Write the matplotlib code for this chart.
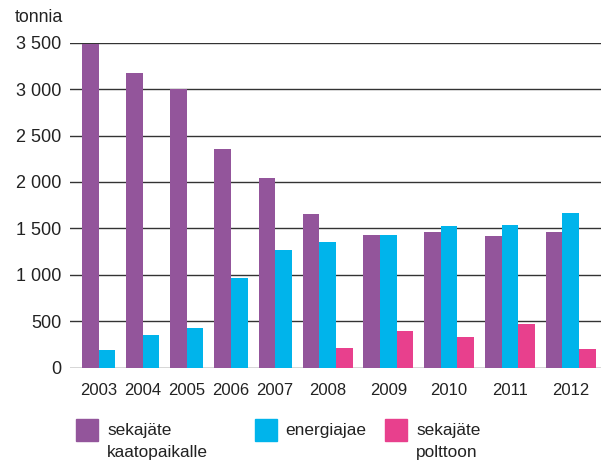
import numpy as np
import matplotlib
matplotlib.use("Agg")
import matplotlib.pyplot as plt
from matplotlib.patches import Rectangle

plt.rcParams['font.family'] = ['Liberation Sans', 'DejaVu Sans']

# data (tonnia)
years = ['2003', '2004', '2005', '2006', '2007', '2008', '2009', '2010', '2011', '2012']
kaatopaikalle = [3490, 3170, 3000, 2350, 2045, 1650, 1428, 1462, 1416, 1462]
energiajae = [187, 355, 429, 962, 1267, 1359, 1428, 1528, 1538, 1661]
polttoon = [0, 0, 0, 0, 0, 208, 398, 334, 471, 197]
series_names = ['sekajäte\nkaatopaikalle', 'energiajae', 'sekajäte\npolttoon']
colors = ['#93559b', '#00b4eb', '#e8408d']
yticks = [0, 500, 1000, 1500, 2000, 2500, 3000, 3500]
ytick_labels = ['0', '500', '1 000', '1 500', '2 000', '2 500', '3 000', '3 500']

fig = plt.figure(figsize=(6.01, 4.62), dpi=100)
ax = fig.add_axes([70 / 601, 94.3 / 462, 531 / 601, 325 / 462])

series = [kaatopaikalle, energiajae, polttoon]
gap = 0.66   # space between groups, in bar widths
start = 0.72
centers = []
for i in range(len(years)):
    vals = [s[i] for s in series]
    n = sum(1 for v in vals if v > 0)
    k = 0
    for j, v in enumerate(vals):
        if v > 0:
            ax.bar(start + k + 0.5, v, width=1.0, color=colors[j], zorder=3, linewidth=0)
            k += 1
    centers.append(start + n / 2)
    start += n + gap

ax.set_xlim(0, 531 / 16.6)
ax.set_ylim(0, 3500)
ax.set_yticks(yticks)
ax.set_yticklabels(ytick_labels, fontsize=13, color='#222222')
ax.set_xticks(centers)
ax.set_xticklabels(years, fontsize=12, color='#222222')
ax.tick_params(axis='both', length=0)
ax.tick_params(axis='y', pad=6)
ax.tick_params(axis='x', pad=11)
for sp in ax.spines.values():
    sp.set_visible(False)
ax.yaxis.grid(True, color='#333333', linewidth=1.0, zorder=0)
ax.set_axisbelow(True)

fig.text(15 / 601, 1 - 17 / 462, 'tonnia', fontsize=12.8, va='center', ha='left', color='#222222')

# legend drawn by hand
leg_x = [75.7, 255, 385]
txt_x = [107, 285, 416]
for lx, tx, name, c in zip(leg_x, txt_x, series_names, colors):
    fig.patches.append(Rectangle((lx / 601, 1 - 441 / 462), 22 / 601, 22 / 462,
                                 transform=fig.transFigure, color=c, figure=fig))
    lines = name.split('\n')
    for r, line in enumerate(lines):
        fig.text(tx / 601, 1 - (430 + 23 * r) / 462, line, fontsize=12.4,
                 va='center', ha='left', color='#222222')

fig.savefig('out.png', dpi=100)
